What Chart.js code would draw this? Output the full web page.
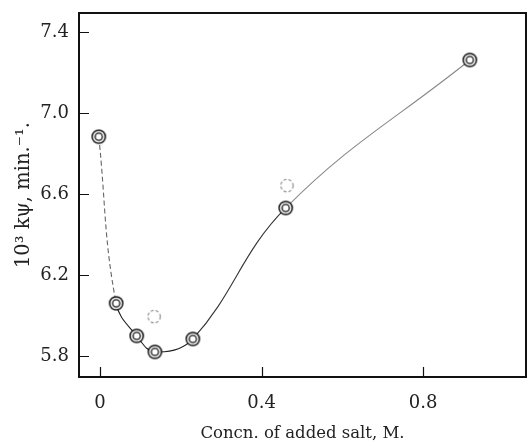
<!DOCTYPE html>
<html>
<head>
<meta charset="utf-8">
<script src="https://cdn.jsdelivr.net/npm/chart.js@4"></script>
<style>
html,body{margin:0;padding:0;background:#fff;}
#wrap{width:527px;height:447px;}
</style>
</head>
<body>
<div id="wrap"><canvas id="c" width="527" height="447"></canvas></div>
<script>
const xMain = [-0.003, 0.040, 0.091, 0.136, 0.230, 0.460, 0.916];
const yMain = [6.883, 6.060, 5.899, 5.820, 5.884, 6.531, 7.262];
const xOpen = [0.134, 0.463];
const yOpen = [5.994, 6.641];
const xTicks = [0, 0.4, 0.8];
const yTicks = [5.8, 6.2, 6.6, 7.0, 7.4];
const xTickLabels = ['0', '0.4', '0.8'];
const yTickLabels = ['5.8', '6.2', '6.6', '7.0', '7.4'];
const xTitle = 'Concn. of added salt, M.';
const yTitle = '10\u00B3 k\u03C8, min.\u207B\u00B9.';

function makeDouble() {
  const c = document.createElement('canvas');
  c.width = 17; c.height = 17;
  const g = c.getContext('2d');
  g.fillStyle = '#fff';
  g.strokeStyle = '#111';
  g.lineWidth = 1.5;
  g.beginPath(); g.arc(8.5, 8.5, 6.6, 0, Math.PI * 2); g.fill(); g.stroke();
  g.lineWidth = 1.3;
  g.beginPath(); g.arc(8.5, 8.5, 3.6, 0, Math.PI * 2); g.stroke();
  return c;
}
function makeOpen() {
  const c = document.createElement('canvas');
  c.width = 17; c.height = 17;
  const g = c.getContext('2d');
  g.strokeStyle = '#888';
  g.lineWidth = 1.1;
  g.setLineDash([3, 2]);
  g.beginPath(); g.arc(8.5, 8.5, 6.2, 0, Math.PI * 2); g.stroke();
  return c;
}

const mainPts = xMain.map((x, i) => ({x: x, y: yMain[i]}));
const openPts = xOpen.map((x, i) => ({x: x, y: yOpen[i]}));

const framePlugin = {
  id: 'frame',
  afterDatasetsDraw(chart) {
    const {ctx, chartArea: a, scales} = chart;
    ctx.save();
    ctx.strokeStyle = '#111';
    ctx.lineWidth = 1.2;
    ctx.beginPath();
    yTicks.forEach(v => {
      const y = Math.round(scales.y.getPixelForValue(v)) + 0.5;
      ctx.moveTo(a.left, y); ctx.lineTo(a.left + 10, y);
    });
    xTicks.forEach(v => {
      const x = Math.round(scales.x.getPixelForValue(v)) + 0.5;
      ctx.moveTo(x, a.bottom); ctx.lineTo(x, a.bottom - 10);
    });
    ctx.stroke();
    ctx.lineWidth = 2;
    ctx.strokeRect(a.left, a.top, a.right - a.left, a.bottom - a.top);
    ctx.restore();
  }
};

new Chart(document.getElementById('c'), {
  type: 'scatter',
  data: {
    datasets: [
      {
        data: mainPts,
        showLine: true,
        tension: 0.4,
        borderColor: '#333',
        borderWidth: 1.1,
        pointStyle: makeDouble(),
        pointRadius: 7,
        segment: {
          borderDash: c => c.p0DataIndex === 0 ? [5, 3] : undefined,
          borderColor: c => c.p0DataIndex === 0 ? '#666' : (c.p0DataIndex >= 5 ? '#888' : (c.p0DataIndex === 4 ? '#333' : '#222'))
        },
        order: 1
      },
      {
        data: openPts,
        showLine: false,
        pointStyle: makeOpen(),
        pointRadius: 7,
        order: 2
      }
    ]
  },
  options: {
    responsive: false,
    animation: false,
    devicePixelRatio: 1,
    layout: {autoPadding: false, padding: {top: 13, right: 1, left: 0, bottom: 0}},
    plugins: {legend: {display: false}, tooltip: {enabled: false}},
    scales: {
      x: {
        type: 'linear',
        min: -0.052, max: 1.055,
        afterBuildTicks: s => { s.ticks = xTicks.map(v => ({value: v})); },
        afterFit: s => { s.height = 70; s.paddingLeft = 0; s.paddingRight = 0; },
        grid: {display: false, drawTicks: false},
        border: {display: false},
        ticks: {
          padding: 16,
          color: '#222',
          font: {family: 'DejaVu Serif', size: 18},
          callback: (v, i) => xTickLabels[i]
        },
        title: {
          display: true, text: xTitle, color: '#222',
          font: {family: 'DejaVu Serif', size: 16.5},
          padding: {top: 1, bottom: 3}
        }
      },
      y: {
        type: 'linear',
        min: 5.696, max: 7.494,
        afterBuildTicks: s => { s.ticks = yTicks.map(v => ({value: v})); },
        afterFit: s => { s.width = 79; s.paddingTop = 0; s.paddingBottom = 0; },
        grid: {display: false, drawTicks: false},
        border: {display: false},
        ticks: {
          padding: 10,
          color: '#222',
          font: {family: 'DejaVu Serif', size: 18},
          callback: (v, i) => yTickLabels[i]
        },
        title: {
          display: true, text: yTitle, color: '#222',
          font: {family: 'DejaVu Serif', size: 19.5},
          padding: {top: 12, bottom: 2}
        }
      }
    }
  },
  plugins: [framePlugin]
});
</script>
</body>
</html>
